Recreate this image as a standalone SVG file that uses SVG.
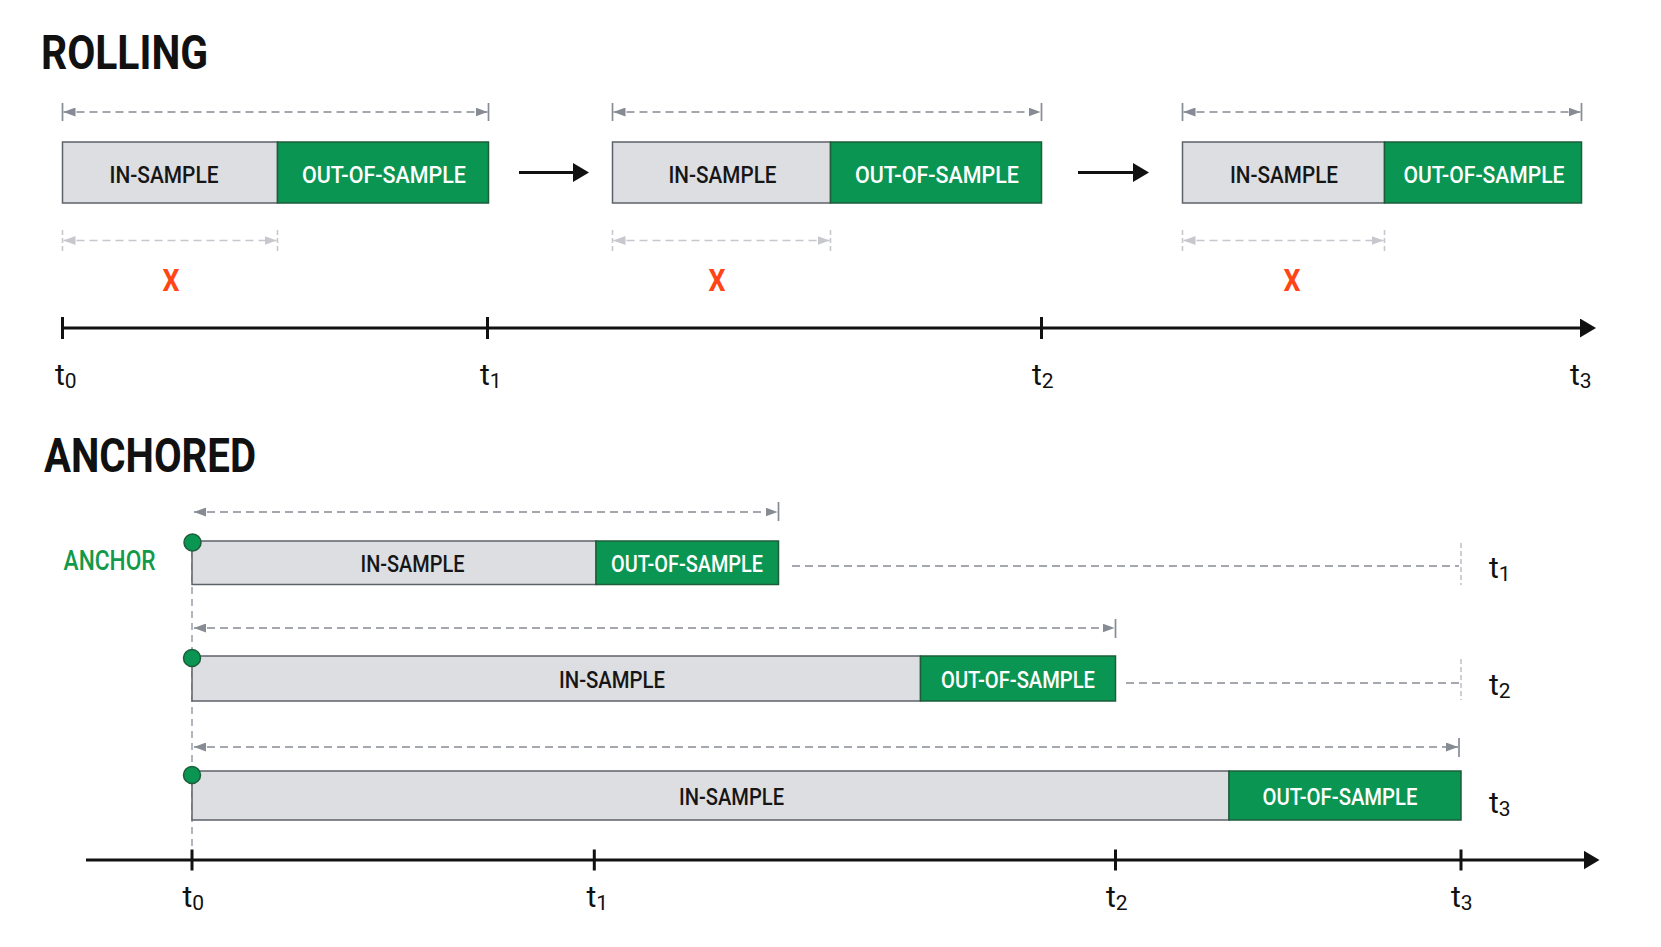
<svg xmlns="http://www.w3.org/2000/svg" width="1661" height="947" viewBox="0 0 1661 947">
<style>
.title{font-family:Roboto,"Liberation Sans",sans-serif;font-weight:700;font-size:48px;fill:#111}
.lbl{font-family:Roboto,"Liberation Sans",sans-serif;font-weight:500;font-size:24.5px;text-anchor:middle}
.in{fill:#dddee2;stroke:#5d6169;stroke-width:1.5}
.out{fill:#0a9552;stroke:#1d5d3a;stroke-width:1.5}
.intx{fill:#161616}
.outtx{fill:#fff}
.x{font-family:Roboto,"Liberation Sans",sans-serif;font-weight:700;font-size:32px;fill:#ff4515;text-anchor:middle}
.t{font-family:Roboto,"Liberation Sans",sans-serif;font-weight:400;font-size:30px;fill:#111}
.sub{font-size:21px}
.dim{stroke:#878b94;stroke-width:1.7;stroke-dasharray:8 5;fill:none}
.dimL{stroke:#c6c8cd;stroke-width:1.6;stroke-dasharray:8 5;fill:none}
.tickD{stroke:#878b94;stroke-width:1.7}
.tickL{stroke:#c6c8cd;stroke-width:1.6;stroke-dasharray:5 3}
.ext{stroke:#878b94;stroke-width:1.6;stroke-dasharray:8 5;fill:none}
.extV{stroke:#b8bbc0;stroke-width:1.4;stroke-dasharray:5 3}
.axis{stroke:#111;stroke-width:3;fill:none}
.dot{fill:#0a9552;stroke:#1d5d3a;stroke-width:1.5}
.anc{stroke:#9a9ea6;stroke-width:1.5;stroke-dasharray:7 5}
</style>
<defs>
<marker id="ad" viewBox="0 0 12 9" refX="12" refY="4.5" markerWidth="12" markerHeight="9" markerUnits="userSpaceOnUse" orient="auto-start-reverse"><path d="M0,0 L12,4.5 L0,9 z" fill="#878b94"/></marker>
<marker id="al" viewBox="0 0 12 9" refX="12" refY="4.5" markerWidth="12" markerHeight="9" markerUnits="userSpaceOnUse" orient="auto-start-reverse"><path d="M0,0 L12,4.5 L0,9 z" fill="#c6c8cd"/></marker>
<marker id="ab" viewBox="0 0 16 19" refX="10" refY="9.5" markerWidth="16" markerHeight="19" markerUnits="userSpaceOnUse" orient="auto"><path d="M0,0 L16,9.5 L0,19 z" fill="#111"/></marker>
</defs>
<rect width="1661" height="947" fill="#fff"/>

<text class="title" x="41" y="68.5" textLength="167" lengthAdjust="spacingAndGlyphs">ROLLING</text>
<text class="title" x="44" y="471.5" textLength="212" lengthAdjust="spacingAndGlyphs">ANCHORED</text>

<g id="connectors">
  <line class="dim" x1="63.5" y1="112" x2="487.5" y2="112" marker-start="url(#ad)" marker-end="url(#ad)"/>
  <line class="tickD" x1="62.5" y1="103" x2="62.5" y2="121"/>
  <line class="tickD" x1="488.5" y1="103" x2="488.5" y2="121"/>
  <line class="dim" x1="613.5" y1="112" x2="1040.5" y2="112" marker-start="url(#ad)" marker-end="url(#ad)"/>
  <line class="tickD" x1="612.5" y1="103" x2="612.5" y2="121"/>
  <line class="tickD" x1="1041.5" y1="103" x2="1041.5" y2="121"/>
  <line class="dim" x1="1183.5" y1="112" x2="1580.5" y2="112" marker-start="url(#ad)" marker-end="url(#ad)"/>
  <line class="tickD" x1="1182.5" y1="103" x2="1182.5" y2="121"/>
  <line class="tickD" x1="1581.5" y1="103" x2="1581.5" y2="121"/>

  <line class="dimL" x1="63.5" y1="240.5" x2="276.5" y2="240.5" marker-start="url(#al)" marker-end="url(#al)"/>
  <line class="tickL" x1="62.5" y1="230" x2="62.5" y2="251"/>
  <line class="tickL" x1="277.5" y1="230" x2="277.5" y2="251"/>
  <line class="dimL" x1="613.5" y1="240.5" x2="829.5" y2="240.5" marker-start="url(#al)" marker-end="url(#al)"/>
  <line class="tickL" x1="612.5" y1="230" x2="612.5" y2="251"/>
  <line class="tickL" x1="830.5" y1="230" x2="830.5" y2="251"/>
  <line class="dimL" x1="1183.5" y1="240.5" x2="1383.5" y2="240.5" marker-start="url(#al)" marker-end="url(#al)"/>
  <line class="tickL" x1="1182.5" y1="230" x2="1182.5" y2="251"/>
  <line class="tickL" x1="1384.5" y1="230" x2="1384.5" y2="251"/>

  <line class="axis" x1="519" y1="172.5" x2="583" y2="172.5" marker-end="url(#ab)"/>
  <line class="axis" x1="1078" y1="172.5" x2="1143" y2="172.5" marker-end="url(#ab)"/>

  <line class="axis" x1="62.5" y1="328" x2="1590" y2="328" marker-end="url(#ab)"/>
  <line class="axis" x1="62.5" y1="317" x2="62.5" y2="339"/>
  <line class="axis" x1="487.5" y1="317" x2="487.5" y2="339"/>
  <line class="axis" x1="1041.5" y1="317" x2="1041.5" y2="339"/>

  <line class="anc" x1="192" y1="551" x2="192" y2="858"/>

  <line class="dim" x1="194" y1="512" x2="777.5" y2="512" marker-start="url(#ad)" marker-end="url(#ad)"/>
  <line class="tickD" x1="778.5" y1="502" x2="778.5" y2="521"/>
  <line class="ext" x1="792" y1="566" x2="1459" y2="566"/>
  <line class="extV" x1="1461" y1="543" x2="1461" y2="585"/>

  <line class="dim" x1="194" y1="628" x2="1114.5" y2="628" marker-start="url(#ad)" marker-end="url(#ad)"/>
  <line class="tickD" x1="1115.5" y1="619" x2="1115.5" y2="638"/>
  <line class="ext" x1="1126" y1="683" x2="1459" y2="683"/>
  <line class="extV" x1="1461" y1="659" x2="1461" y2="700"/>

  <line class="dim" x1="194" y1="747" x2="1458" y2="747" marker-start="url(#ad)" marker-end="url(#ad)"/>
  <line class="tickD" x1="1459" y1="738" x2="1459" y2="757"/>

  <line class="axis" x1="86" y1="860" x2="1593.5" y2="860" marker-end="url(#ab)"/>
  <line class="axis" x1="192" y1="849.5" x2="192" y2="870.5"/>
  <line class="axis" x1="594.3" y1="849.5" x2="594.3" y2="870.5"/>
  <line class="axis" x1="1115.5" y1="849.5" x2="1115.5" y2="870.5"/>
  <line class="axis" x1="1461" y1="849.5" x2="1461" y2="870.5"/>
</g>

<g id="rolling-window-1">
  <rect class="in" x="62.5" y="142" width="215" height="61"/>
  <rect class="out" x="277.5" y="142" width="211" height="61"/>
  <text class="lbl intx" x="164" y="182.5" textLength="109" lengthAdjust="spacingAndGlyphs">IN-SAMPLE</text>
  <text class="lbl outtx" x="384" y="182.5" textLength="164" lengthAdjust="spacingAndGlyphs">OUT-OF-SAMPLE</text>
</g>
<g id="rolling-window-2">
  <rect class="in" x="612.5" y="142" width="218" height="61"/>
  <rect class="out" x="830.5" y="142" width="211" height="61"/>
  <text class="lbl intx" x="722.5" y="182.5" textLength="108" lengthAdjust="spacingAndGlyphs">IN-SAMPLE</text>
  <text class="lbl outtx" x="937" y="182.5" textLength="164" lengthAdjust="spacingAndGlyphs">OUT-OF-SAMPLE</text>
</g>
<g id="rolling-window-3">
  <rect class="in" x="1182.5" y="142" width="202" height="61"/>
  <rect class="out" x="1384.5" y="142" width="197" height="61"/>
  <text class="lbl intx" x="1284" y="182.5" textLength="108" lengthAdjust="spacingAndGlyphs">IN-SAMPLE</text>
  <text class="lbl outtx" x="1484" y="182.5" textLength="161" lengthAdjust="spacingAndGlyphs">OUT-OF-SAMPLE</text>
</g>

<g id="rolling-x-labels">
  <text class="x" x="171" y="291" textLength="17" lengthAdjust="spacingAndGlyphs">X</text>
  <text class="x" x="717" y="291" textLength="17" lengthAdjust="spacingAndGlyphs">X</text>
  <text class="x" x="1292" y="291" textLength="17" lengthAdjust="spacingAndGlyphs">X</text>
</g>

<g id="rolling-axis-labels">
  <text class="t" x="55" y="385">t<tspan class="sub" dy="3">0</tspan></text>
  <text class="t" x="480" y="385">t<tspan class="sub" dy="3">1</tspan></text>
  <text class="t" x="1032" y="385">t<tspan class="sub" dy="3">2</tspan></text>
  <text class="t" x="1570" y="385">t<tspan class="sub" dy="3">3</tspan></text>
</g>

<g id="anchor-label">
  <text x="63.6" y="570" textLength="92" lengthAdjust="spacingAndGlyphs" style="font-family:Roboto,'Liberation Sans',sans-serif;font-weight:500;font-size:27px;fill:#129a4a">ANCHOR</text>
</g>

<g id="anchored-window-1">
  <rect class="in" x="192" y="541" width="404" height="43.5"/>
  <rect class="out" x="596" y="541" width="182.5" height="43.5"/>
  <text class="lbl intx" x="412.5" y="571.5" textLength="104" lengthAdjust="spacingAndGlyphs">IN-SAMPLE</text>
  <text class="lbl outtx" x="687" y="571.5" textLength="152" lengthAdjust="spacingAndGlyphs">OUT-OF-SAMPLE</text>
  <circle class="dot" cx="192.5" cy="542.5" r="8.5"/>
  <text class="t" x="1489" y="578">t<tspan class="sub" dy="3">1</tspan></text>
</g>
<g id="anchored-window-2">
  <rect class="in" x="192" y="656" width="728.5" height="45"/>
  <rect class="out" x="920.5" y="656" width="195" height="45"/>
  <text class="lbl intx" x="612" y="687.5" textLength="106" lengthAdjust="spacingAndGlyphs">IN-SAMPLE</text>
  <text class="lbl outtx" x="1018" y="687.5" textLength="154" lengthAdjust="spacingAndGlyphs">OUT-OF-SAMPLE</text>
  <circle class="dot" cx="192" cy="658" r="8.5"/>
  <text class="t" x="1489" y="695">t<tspan class="sub" dy="3">2</tspan></text>
</g>
<g id="anchored-window-3">
  <rect class="in" x="192" y="771" width="1037" height="49"/>
  <rect class="out" x="1229" y="771" width="232" height="49"/>
  <text class="lbl intx" x="731.5" y="804.5" textLength="105" lengthAdjust="spacingAndGlyphs">IN-SAMPLE</text>
  <text class="lbl outtx" x="1340" y="804.5" textLength="155" lengthAdjust="spacingAndGlyphs">OUT-OF-SAMPLE</text>
  <circle class="dot" cx="192" cy="775" r="8.5"/>
  <text class="t" x="1489" y="813">t<tspan class="sub" dy="3">3</tspan></text>
</g>

<g id="anchored-axis-labels">
  <text class="t" x="182.5" y="907">t<tspan class="sub" dy="3">0</tspan></text>
  <text class="t" x="586.5" y="907">t<tspan class="sub" dy="3">1</tspan></text>
  <text class="t" x="1106" y="907">t<tspan class="sub" dy="3">2</tspan></text>
  <text class="t" x="1451" y="907">t<tspan class="sub" dy="3">3</tspan></text>
</g>
</svg>
